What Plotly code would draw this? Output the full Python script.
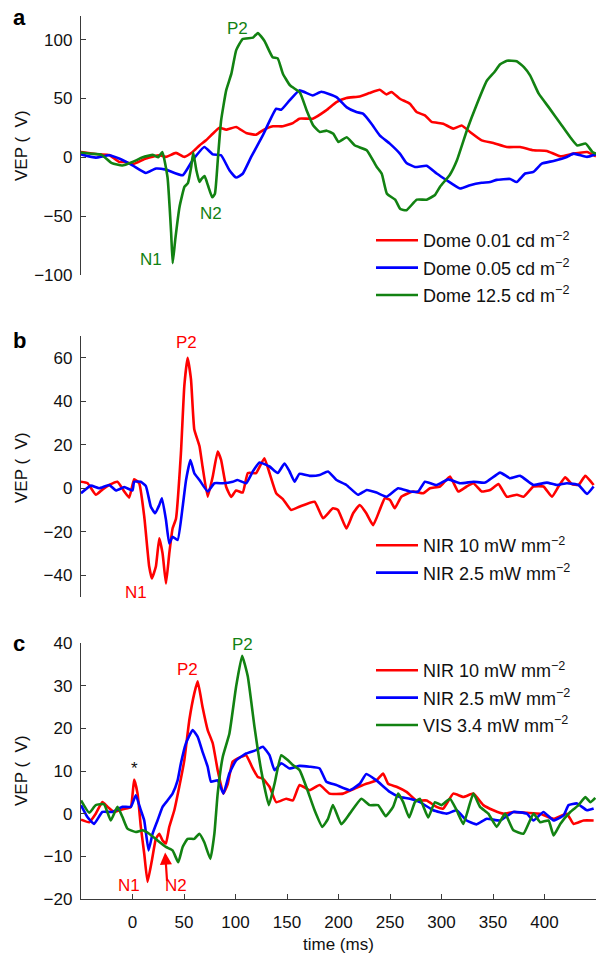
import plotly.graph_objects as go

# ---------------- panel a: dome stimulation ----------------
a_red_t = [-50, -32, -22.6, -13, -6.5, 0, 13, 26, 32.4, 42.2, 50.3, 58.4, 65, 71.4, 77.9, 84.4, 90.9,
           100.6, 110.4, 120, 126.5, 136.3, 146, 155.7, 162, 175, 188, 198, 207.7, 220.6, 230, 240,
           246.6, 251.5, 259.6, 269.3, 275.8, 283.9, 290.4, 301.7, 311.4, 319.6, 327.7, 339, 350.4,
           363.4, 376.4, 389.3, 402.3, 415.3, 428.2, 441.2, 450]
a_red_v = [4.5, 2.5, 2, -4, -4, -6, -1.1, 1.7, 0.3, 3.7, 0.3, 4.5, 10, 14.4, 20, 25, 23.4,
           25.7, 20.6, 19.2, 22.9, 26.3, 26.3, 29, 32.8, 32.8, 39.8, 46.9, 50.3, 51.7, 54.5, 57.3,
           53.4, 55.5, 49.7, 45.5, 38.4, 35.6, 30, 28.5, 24.3, 27, 21.5, 14.4, 12.1,
           8.7, 8.7, 5.9, 5.4, 0.8, 3.1, 4.5, 0.8]

a_blue_t = [-50, -35.6, -22.6, -13, 0, 13, 22.7, 32.4, 48.7, 58.4, 69.8, 77.9, 86, 94.1, 100.6,
            107, 115.2, 126.5, 139.5, 144.4, 152.5, 162, 175, 183.3, 198, 207.7, 217.4, 223.8,
            232, 240, 249.8, 259.6, 266, 274.2, 285.6, 295.3, 305, 318, 327.7, 339, 347.2, 353.7,
            366.6, 373, 381.2, 389.3, 397.4, 408.8, 421.7, 428.2, 441.2, 450]
a_blue_v = [2.5, -0.3, 1.7, -1.1, -6.8, -13.3, -9.6, -10.5, -15.3, -2.5, 8.7, 2.5, 1.7, -11, -17.2,
            -14, 0.3, 18.6, 41.2, 40.4, 48.3, 56.8, 52.5, 55.6, 51.1, 42.6, 38.4, 37,
            28.5, 18.6, 11.6, 3.1, -4.8, -8.2, -7.3, -13.8, -19.5, -26.5, -23.7, -21.7, -21, -19.2,
            -18.4, -21, -13.8, -12.4, -5.4, -3.1, 0.3, 3.1, 0.3, 2.5]

a_green_t = [-50, -40, -30, -20, -10, 0, 10, 20, 25, 29, 34, 37.5, 39, 41.5, 45.7, 50.5, 53.8, 57,
             59, 62, 65, 66.5, 70, 73.3, 77.4, 80, 83, 86, 91, 96, 100.7, 107, 117, 121.7, 128,
             136, 141, 146, 153, 162.5, 169, 175.5, 182, 188.5, 195, 200, 208, 216, 227.4, 237,
             242, 247, 255, 260, 266, 276, 285.6, 293.7, 298.6, 308, 315, 324.7, 334.5, 344, 351,
             357, 363.6, 373, 380, 386, 394.4, 404, 415.6, 425, 431.8, 440, 446.5, 450]
a_green_v = [4, 3, 2, -5, -7, -4, 0, 2, 0, 4.5, -17, -64, -90, -70, -42, -25, -22, -8,
             4, -11, -21, -19, -16, -24, -34, -31, 0, 31, 57, 71, 91, 100.5, 101.6, 105.6, 99,
             85, 84, 71, 61, 55, 40, 27, 21.4, 22.6, 20, 13, 17, 10, 6, -8,
             -14, -31, -36, -44, -45, -36, -36, -32, -25, -15, -2.5, 23, 45.5, 65, 72,
             79, 82, 81.5, 76.5, 69.5, 54, 42.6, 28.5, 17, 10, 11.6, 4.5, 3]

# ---------------- panel b: NIR stimulation ----------------
b_red_t = [-50, -43.8, -35.6, -29, -22.6, -14.6, -8, -3.2, 1.6, 6.5, 11.4, 16.2, 18.8, 22.7, 26,
           29.2, 32.5, 35.7, 38.9, 42.2, 47, 50.3, 53.5, 56.8, 60, 65, 68, 73, 77.9, 82.7, 86,
           90.9, 95.8, 100.6, 107, 112, 120, 128, 133, 139.5, 146, 154, 162, 176.8, 185, 194.6,
           199.5, 207.7, 214.2, 220.6, 227, 233.6, 240, 245, 250, 254.7, 261, 272.5, 282.3,
           288.8, 298.5, 308.2, 316.3, 324.4, 331, 339, 347.2, 355.3, 363.4, 373.2, 379.7,
           389.3, 399, 407.2, 413.6, 420.1, 426.6, 433, 439.6, 447.7]
b_red_v = [3, 2.4, -3, -0.5, 1.5, 3, -1.5, -4.3, 4.1, 2.3, -13, -36, -41.5, -36, -23,
           -30, -43.8, -30, -18.5, -14, 16, 47, 60, 50, 27, 19.4, 10, -3.9, 5.4, 16.9, 13,
           0.7, -4, -1, -2, 7, 7, 13.8, 7, -2.3, -5, -10, -8.5, -6.2, -13.8, -9.2,
           -10, -18.5, -11.5, -7.7, -11.5, -17, -10, -4.6, -5.4, -9.2, -3.9, -1.5, -2.3,
           0, 0.8, 5.4, -1.5, 0.8, 2.3, -1.5, -0.8, 1.9, -3.9, -3, -3.9,
           0.8, 0.8, -3.9, 0.8, 5, 1.9, 1.5, 5.7, 1.5]

b_blue_t = [-50, -40.5, -32.4, -22.6, -16, -8, 0, 1.6, 8, 13, 17.8, 22, 26, 28.6, 32.5, 35.7,
            38.9, 43.8, 48.7, 52, 56.2, 60, 65, 73, 79.5, 87.6, 97.3, 102, 110.4, 116.8, 123.3,
            133, 141, 147.6, 152.5, 157.4, 162, 172, 181.7, 189.8, 198, 207.7, 219, 227.4,
            236.9, 246.6, 258, 269.3, 277.4, 283.9, 295.3, 306.6, 318, 331, 342.3, 356.9, 366.6,
            376.4, 389.3, 402.3, 412, 421.8, 433, 441.2, 447.7]
b_blue_v = [-2.3, 1.2, 0, 1.5, -1, 0.5, -1, 3, 3, 1, -8.5, -11.5, -7.7, -4.6, -14.6, -25.4,
            -22.3, -23.8, -8.5, 3.8, 13, 6.9, 3.8, -1.5, 2.3, 2.3, 3, 3.8, 2.3, 7.7, 11.8,
            10, 7, 11.4, 7.7, 3, 6.6, 5.7, 6.1, 7.7, 3.8, 1.5, -3, -0.8,
            -2, -3.9, 0, -1.5, -1.5, 3, 1.5, 4.1, 2.3, 3, 2.6, 7.2, 4.6,
            5.7, 1.5, 2.6, 1.5, 2.3, 1.5, -2.6, 0.8]

# ---------------- panel c: NIR vs visible ----------------
c_red_t = [-50, -42, -35.7, -29.2, -24.3, -17.8, -13, -6.5, -1.6, 1.6, 4.9, 8.1, 11.4, 14.6,
           18.8, 22.7, 26, 29.2, 32.4, 35.7, 40.6, 45.4, 50.3, 55.2, 60, 63.3, 68, 73, 77.9,
           82.7, 88.2, 92.5, 97.3, 105.4, 110.3, 116.8, 121.7, 126.5, 133, 139.5, 149.2, 155.7,
           162.2, 172, 181.7, 191.4, 204.4, 215.7, 227, 236.8, 243.3, 248.2, 256.3, 266, 275.8,
           285.5, 295.2, 301.7, 311.4, 321.2, 330.9, 340.6, 350.4, 360.1, 369.8, 382.8, 395.8,
           408.8, 421.7, 428.2, 437.9, 447.7]
c_red_v = [-1.4, -2, 0, 2.7, 1.6, 0.4, 0.8, 1.2, 1.6, 8, 4.7, -3.1, -9.4, -16,
           -11, -5.9, -4.7, -6.3, -7, -3.1, 0.8, 6.3, 12.5, 22, 28.2, 31, 25, 19.6, 16.5,
           10.2, 4.7, 7, 12.2, 13.3, 13.7, 10.6, 8.6, 8.2, 6.3, 2.7, 3.5, 3.1,
           6.7, 5.5, 6.7, 4.7, 4.7, 5.9, 7, 7.8, 9.4, 7, 6.3, 5.1, 3.1,
           3.1, 1.6, 1.2, 4.7, 3.9, 4.7, 2, 0.8, 0, 0.4, 0.2, 0,
           -1.2, 0, -2.4, -1.6, -1.6]

c_blue_t = [-50, -43.8, -37.3, -29.2, -19.5, -9.7, -1.6, 3.2, 8.1, 11.4, 15.6, 19.5, 24.3, 29.2,
            34, 38.9, 43.8, 47, 51.9, 58.4, 63.3, 68, 73, 76.2, 82.7, 88.2, 94, 100.6, 110.3,
            120, 126.5, 133, 137.9, 144.4, 152.5, 162.2, 172, 181.7, 188.2, 197.9, 210.9, 220.6,
            227, 236.8, 249.8, 259.5, 269.3, 279, 292, 305, 314.7, 324.4, 334.1, 343.9, 356.9,
            369.8, 382.8, 389.3, 399, 408.8, 418.5, 423.4, 431.5, 441.2, 447.7]
c_blue_v = [2, -0.8, -2.4, 0.4, 0.4, 1.6, 1.6, 4.3, 0.8, -1.6, -8.6, -4.7, -1.6, 1.6,
            3.1, 4.7, 7.8, 11.8, 16.5, 19.6, 18, 14.5, 11, 7.5, 7.8, 4.7, 9.4, 12.5, 14.1,
            14.9, 15.7, 13.7, 10.2, 11.8, 10.6, 11.2, 11, 10.6, 7.5, 6.7, 5.5, 7,
            9.3, 7.8, 5.1, 3.9, 3.5, 2.7, 0.8, 0, 0.8, -1.6, -2.5, -1.2, -1.6,
            0.4, 0, -1.6, 0.4, -1.6, -0.4, 2, 2.4, 0.8, 1.2]

c_green_t = [-50, -42, -35.7, -27.6, -21.1, -14.6, -9.7, -4.9, 3.2, 9.7, 16.2, 24.3, 32.4, 38.9,
             44.4, 48.7, 53.5, 60, 64.9, 69.7, 75.6, 79.5, 82.7, 87.6, 94.1, 100.6, 106.4, 111.9,
             118.4, 124.9, 132.4, 137.9, 144.4, 150.9, 155.7, 162.2, 168.7, 176.8, 184.3, 189.8,
             194.6, 202.8, 210.9, 222.2, 230.3, 238.4, 245.9, 253, 257.9, 262.8, 268.6, 274.2,
             279, 287.1, 293.6, 300.1, 308.2, 314.7, 321.2, 330.9, 337.4, 345.5, 353.6, 361.7,
             369.8, 379.6, 389.3, 395.8, 403.9, 408.8, 415.3, 425, 433.1, 439.6, 444.5, 449.3]
c_green_v = [3.1, 0.2, 2, 2.2, -1.6, 1.6, -0.8, -3.5, -4.3, -3.9, -4.7, -6.3, -7.8, -8.6,
             -11.4, -7.8, -5.9, -5.9, -4.7, -6.7, -10.6, -4.7, 4.7, 13.3, 18.8, 29.8, 37, 32.2,
             20.4, 10.2, 2, 7, 13.7, 12.5, 11.4, 10.2, 6.3, 0.8, -3.1, -1.2,
             2, -2.5, 0, 3.5, 2, 2, -0.6, 1.6, 4.7, 2.7, -0.9, 2.7,
             3.5, -0.9, 2.7, 2, 3.5, 0.8, -2.4, 4.7, 1.6, 0, -3.1, 0,
             -3.9, -4.7, 0, -2, -1.6, -5.1, -2.4, 0.4, 2, 3.9, 2.7, 3.7]

legend_a = ["Dome 0.01 cd m<sup>−2</sup>", "Dome 0.05 cd m<sup>−2</sup>", "Dome 12.5 cd m<sup>−2</sup>"]
legend_b = ["NIR 10 mW mm<sup>−2</sup>", "NIR 2.5 mW mm<sup>−2</sup>"]
legend_c = ["NIR 10 mW mm<sup>−2</sup>", "NIR 2.5 mW mm<sup>−2</sup>", "VIS 3.4 mW mm<sup>−2</sup>"]

x_ticks = [0, 50, 100, 150, 200, 250, 300, 350, 400]
a_yticks = [-100, -50, 0, 50, 100]
b_yticks = [-40, -20, 0, 20, 40, 60]
c_yticks = [-20, -10, 0, 10, 20, 30, 40]

RED, BLUE, GREEN = "#ff0000", "#0000ff", "#128212"
FONT = "Liberation Sans, Arial, Helvetica, sans-serif"
AXC = "#3a3a3a"
LW = 2.6
H = 954.0


def py(p):
    """Pixel row from the top -> paper fraction."""
    return 1 - p / H


fig = go.Figure()


def add(t, v, color, name, xa, ya, leg):
    fig.add_trace(go.Scatter(
        x=t, y=v, mode="lines", name=name, legend=leg, legendgroup=leg + name,
        line=dict(color=color, width=LW, shape="spline", smoothing=0.4),
        xaxis=xa, yaxis=ya))


add(a_red_t, a_red_v, RED, legend_a[0], "x3", "y3", "legend")
add(a_blue_t, a_blue_v, BLUE, legend_a[1], "x3", "y3", "legend")
add(a_green_t, a_green_v, GREEN, legend_a[2], "x3", "y3", "legend")
add(b_red_t, b_red_v, RED, legend_b[0], "x2", "y2", "legend2")
add(b_blue_t, b_blue_v, BLUE, legend_b[1], "x2", "y2", "legend2")
add(c_red_t, c_red_v, RED, legend_c[0], "x", "y", "legend3")
add(c_blue_t, c_blue_v, BLUE, legend_c[1], "x", "y", "legend3")
add(c_green_t, c_green_v, GREEN, legend_c[2], "x", "y", "legend3")

xdom = [81 / 600, 596 / 600]
xr = [-50, 450]
hidden_x = dict(range=xr, domain=xdom, visible=False, fixedrange=True, automargin=False)

yax_common = dict(showline=True, linecolor=AXC, linewidth=1.3, ticks="inside", ticklen=5,
                  tickcolor=AXC, tickwidth=1.2, showgrid=False, zeroline=False, automargin=False,
                  tickfont=dict(family=FONT, size=17, color="#111"), ticklabelstandoff=4)

leg_common = dict(font=dict(family=FONT, size=18, color="#111"), bgcolor="rgba(0,0,0,0)",
                  borderwidth=0, itemwidth=42, tracegroupgap=1, xanchor="left", yanchor="top",
                  itemclick=False, itemdoubleclick=False)

fig.update_layout(
    template="none",
    width=600, height=954, margin=dict(l=0, r=0, t=0, b=0, pad=0, autoexpand=False),
    paper_bgcolor="white", plot_bgcolor="white", showlegend=True,
    xaxis=dict(range=xr, domain=xdom, anchor="y", showline=True, linecolor=AXC, linewidth=1.3,
               ticks="inside", ticklen=5, tickcolor=AXC, tickwidth=1.2, tickvals=x_ticks,
               showgrid=False, zeroline=False, ticklabelstandoff=7, automargin=False,
               tickfont=dict(family=FONT, size=17, color="#111")),
    xaxis2=dict(hidden_x, anchor="y2"),
    xaxis3=dict(hidden_x, anchor="y3"),
    yaxis=dict(yax_common, range=[-20, 40], domain=[py(899), py(643)], anchor="x", tickvals=c_yticks),
    yaxis2=dict(yax_common, range=[-50, 70], domain=[py(597), py(336)], anchor="x2", tickvals=b_yticks),
    yaxis3=dict(yax_common, range=[-100, 120], domain=[py(275), py(16)], anchor="x3", tickvals=a_yticks),
    legend=dict(leg_common, x=371 / 600, y=py(222)),
    legend2=dict(leg_common, x=371 / 600, y=py(527)),
    legend3=dict(leg_common, x=371 / 600, y=py(652)),
)

ann = []


def label(text, x, y, color, xref, yref, size=17, **kw):
    ann.append(dict(text=text, x=x, y=y, xref=xref, yref=yref, showarrow=False,
                    xanchor="center", yanchor="middle",
                    font=dict(family=FONT, size=size, color=color), **kw))


# peak labels
label("P2", 101.9, 109, GREEN, "x3", "y3")
label("N1", 18.2, -87, GREEN, "x3", "y3")
label("N2", 76.6, -47.5, GREEN, "x3", "y3")
label("P2", 52.3, 67, RED, "x2", "y2")
label("N1", 3.6, -47.8, RED, "x2", "y2")
label("N2", 40.6, -50.2, RED, "x2", "y2")
label("*", 1.6, 10.6, "#111", "x", "y")
label("P2", 53.2, 33.7, RED, "x", "y")
label("P2", 106.8, 39.6, GREEN, "x", "y")
label("N1", -3.2, -16.9, RED, "x", "y")
label("N2", 42.5, -16.9, RED, "x", "y")

# arrow pointing at N2 in panel c
ann.append(dict(text="", x=31.7, y=-9.1, xref="x", yref="y", showarrow=True, ax=2, ay=30,
                arrowhead=2, arrowsize=1.1, arrowwidth=2.2, arrowcolor=RED))

# panel letters
for letter, row in (("a", 18), ("b", 340), ("c", 643)):
    label("<b>%s</b>" % letter, 19 / 600, py(row), "#000", "paper", "paper", size=22)

# y axis titles
for row in (146, 468, 771):
    label("VEP (\u00a0\u00a0V)", 21 / 600, py(row), "#111", "paper", "paper", size=17, textangle=-90)

# x axis title
label("time (ms)", 338 / 600, py(944), "#111", "paper", "paper", size=17)

fig.update_layout(annotations=ann)
fig.write_html("out.html")
